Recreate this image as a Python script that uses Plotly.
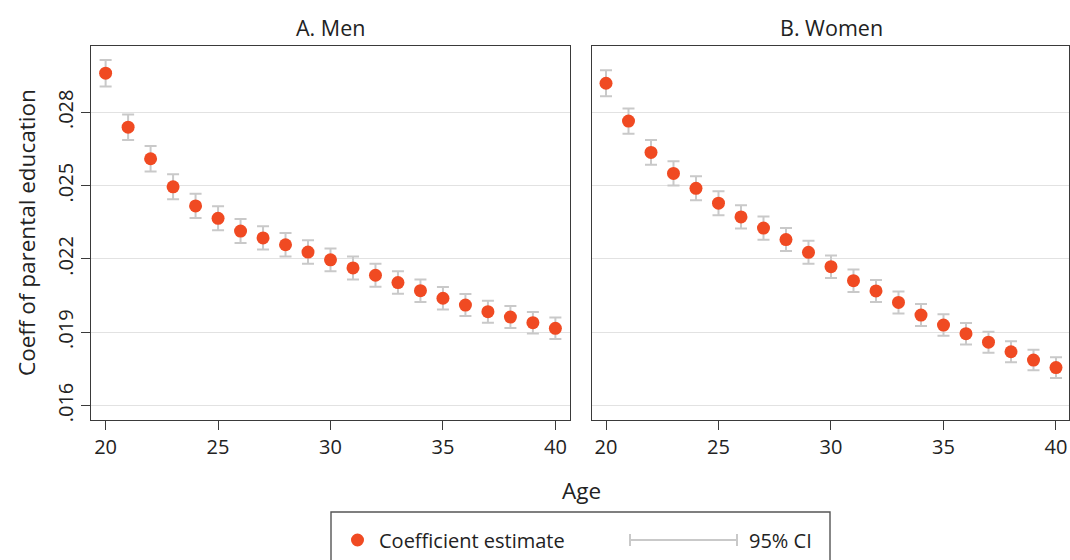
import plotly.graph_objects as go

W, H = 1070, 560

ages = list(range(20, 41))
men_coef = [0.02960, 0.02739, 0.02610, 0.02495, 0.02417, 0.02366, 0.02314, 0.02286,
            0.02258, 0.02228, 0.02196, 0.02163, 0.02133, 0.02103, 0.02070, 0.02039,
            0.02011, 0.01984, 0.01962, 0.01939, 0.01916]
men_ci = [0.00054, 0.00052, 0.00052, 0.00051, 0.00050, 0.00049, 0.00049, 0.00048,
          0.00048, 0.00048, 0.00047, 0.00047, 0.00047, 0.00046, 0.00046, 0.00046,
          0.00045, 0.00045, 0.00045, 0.00044, 0.00044]
women_coef = [0.02919, 0.02764, 0.02636, 0.02550, 0.02489, 0.02428, 0.02372, 0.02326,
              0.02279, 0.02227, 0.02168, 0.02111, 0.02069, 0.02022, 0.01970, 0.01929,
              0.01894, 0.01859, 0.01820, 0.01786, 0.01755]
women_ci = [0.00053, 0.00052, 0.00051, 0.00050, 0.00049, 0.00049, 0.00048, 0.00048,
            0.00047, 0.00047, 0.00046, 0.00046, 0.00045, 0.00045, 0.00045, 0.00044,
            0.00044, 0.00043, 0.00043, 0.00042, 0.00042]

x_ticks = [20, 25, 30, 35, 40]
y_ticks = [0.016, 0.019, 0.022, 0.025, 0.028]
y_ticktext = [".016", ".019", ".022", ".025", ".028"]
panel_titles = ["A. Men", "B. Women"]

FONT = "Open Sans"
TXT = "#222222"
MARK = "#f04a22"
CI_COL = "#c9c9c9"
LINE = "#3a3a3a"
TICK_SIZE = 20

def px(x):
    return x / W

def py(y):
    return (H - y) / H

fig = go.Figure()
for coef, ci, xa, ya in [(men_coef, men_ci, "x", "y"), (women_coef, women_ci, "x2", "y2")]:
    fig.add_trace(go.Scatter(
        x=ages, y=coef, mode="markers", xaxis=xa, yaxis=ya, showlegend=False,
        marker=dict(color=MARK, size=13, line=dict(width=0)),
        error_y=dict(type="data", array=ci, symmetric=True, color=CI_COL,
                     thickness=2, width=6),
        hoverinfo="skip",
    ))

axis_common = dict(showline=True, mirror=True, linecolor=LINE, linewidth=1.4,
                   zeroline=False, automargin=False)
xcommon = dict(axis_common, tickvals=x_ticks, ticks="outside", ticklen=9,
               tickcolor=LINE, tickwidth=1.3, showgrid=False,
               tickfont=dict(family=FONT, size=TICK_SIZE, color=TXT))
yrange = [0.015406, 0.030714]

fig.update_layout(
    width=W, height=H, margin=dict(l=0, r=0, t=0, b=0),
    paper_bgcolor="white", plot_bgcolor="white",
    xaxis=dict(xcommon, domain=[px(91), px(570)], range=[19.35, 40.65], anchor="y"),
    xaxis2=dict(xcommon, domain=[px(592), px(1069)], range=[19.378, 40.578], anchor="y2"),
    yaxis=dict(axis_common, domain=[py(420), py(46)], range=yrange, anchor="x",
               tickvals=y_ticks, ticktext=y_ticktext, tickangle=-90,
               ticks="outside", ticklen=9, tickcolor=LINE, tickwidth=1.3,
               showgrid=True, gridcolor="#e2e2e2", gridwidth=1.3,
               tickfont=dict(family=FONT, size=TICK_SIZE, color=TXT)),
    yaxis2=dict(axis_common, domain=[py(420), py(46)], range=yrange, anchor="x2",
                tickvals=y_ticks, showticklabels=False, ticks="",
                showgrid=True, gridcolor="#e2e2e2", gridwidth=1.3),
    showlegend=False,
)

ann = [
    dict(text=panel_titles[0], x=px(330), y=py(27), size=21.5),
    dict(text=panel_titles[1], x=px(831), y=py(27), size=21.5),
    dict(text="Age", x=px(581), y=py(490), size=22.5),
    dict(text="Coeff of parental education", x=px(27), y=py(233), size=22.5, angle=-90),
    dict(text="Coefficient estimate", x=px(377), y=py(540), xanchor="left", size=20),
    dict(text="95% CI", x=px(747), y=py(540), xanchor="left", size=20),
]
for a in ann:
    fig.add_annotation(
        text=a["text"], x=a["x"], y=a["y"], xref="paper", yref="paper",
        xanchor=a.get("xanchor", "center"), yanchor="middle", showarrow=False,
        textangle=a.get("angle", 0),
        font=dict(family=FONT, size=a["size"], color=TXT),
    )

# legend box
fig.add_shape(type="rect", xref="paper", yref="paper", x0=px(331), x1=px(830),
              y0=py(600), y1=py(512), line=dict(color="#555555", width=1.4),
              fillcolor="rgba(0,0,0,0)")
fig.add_shape(type="circle", xref="paper", yref="paper",
              x0=px(351), x1=px(364), y0=py(546.5), y1=py(533.5),
              fillcolor=MARK, line=dict(width=0))
fig.add_shape(type="line", xref="paper", yref="paper", x0=px(630), x1=px(737),
              y0=py(540), y1=py(540), line=dict(color=CI_COL, width=2))
for xc in (630, 737):
    fig.add_shape(type="line", xref="paper", yref="paper", x0=px(xc), x1=px(xc),
                  y0=py(534), y1=py(546), line=dict(color=CI_COL, width=2))

fig.write_html("out.html")
